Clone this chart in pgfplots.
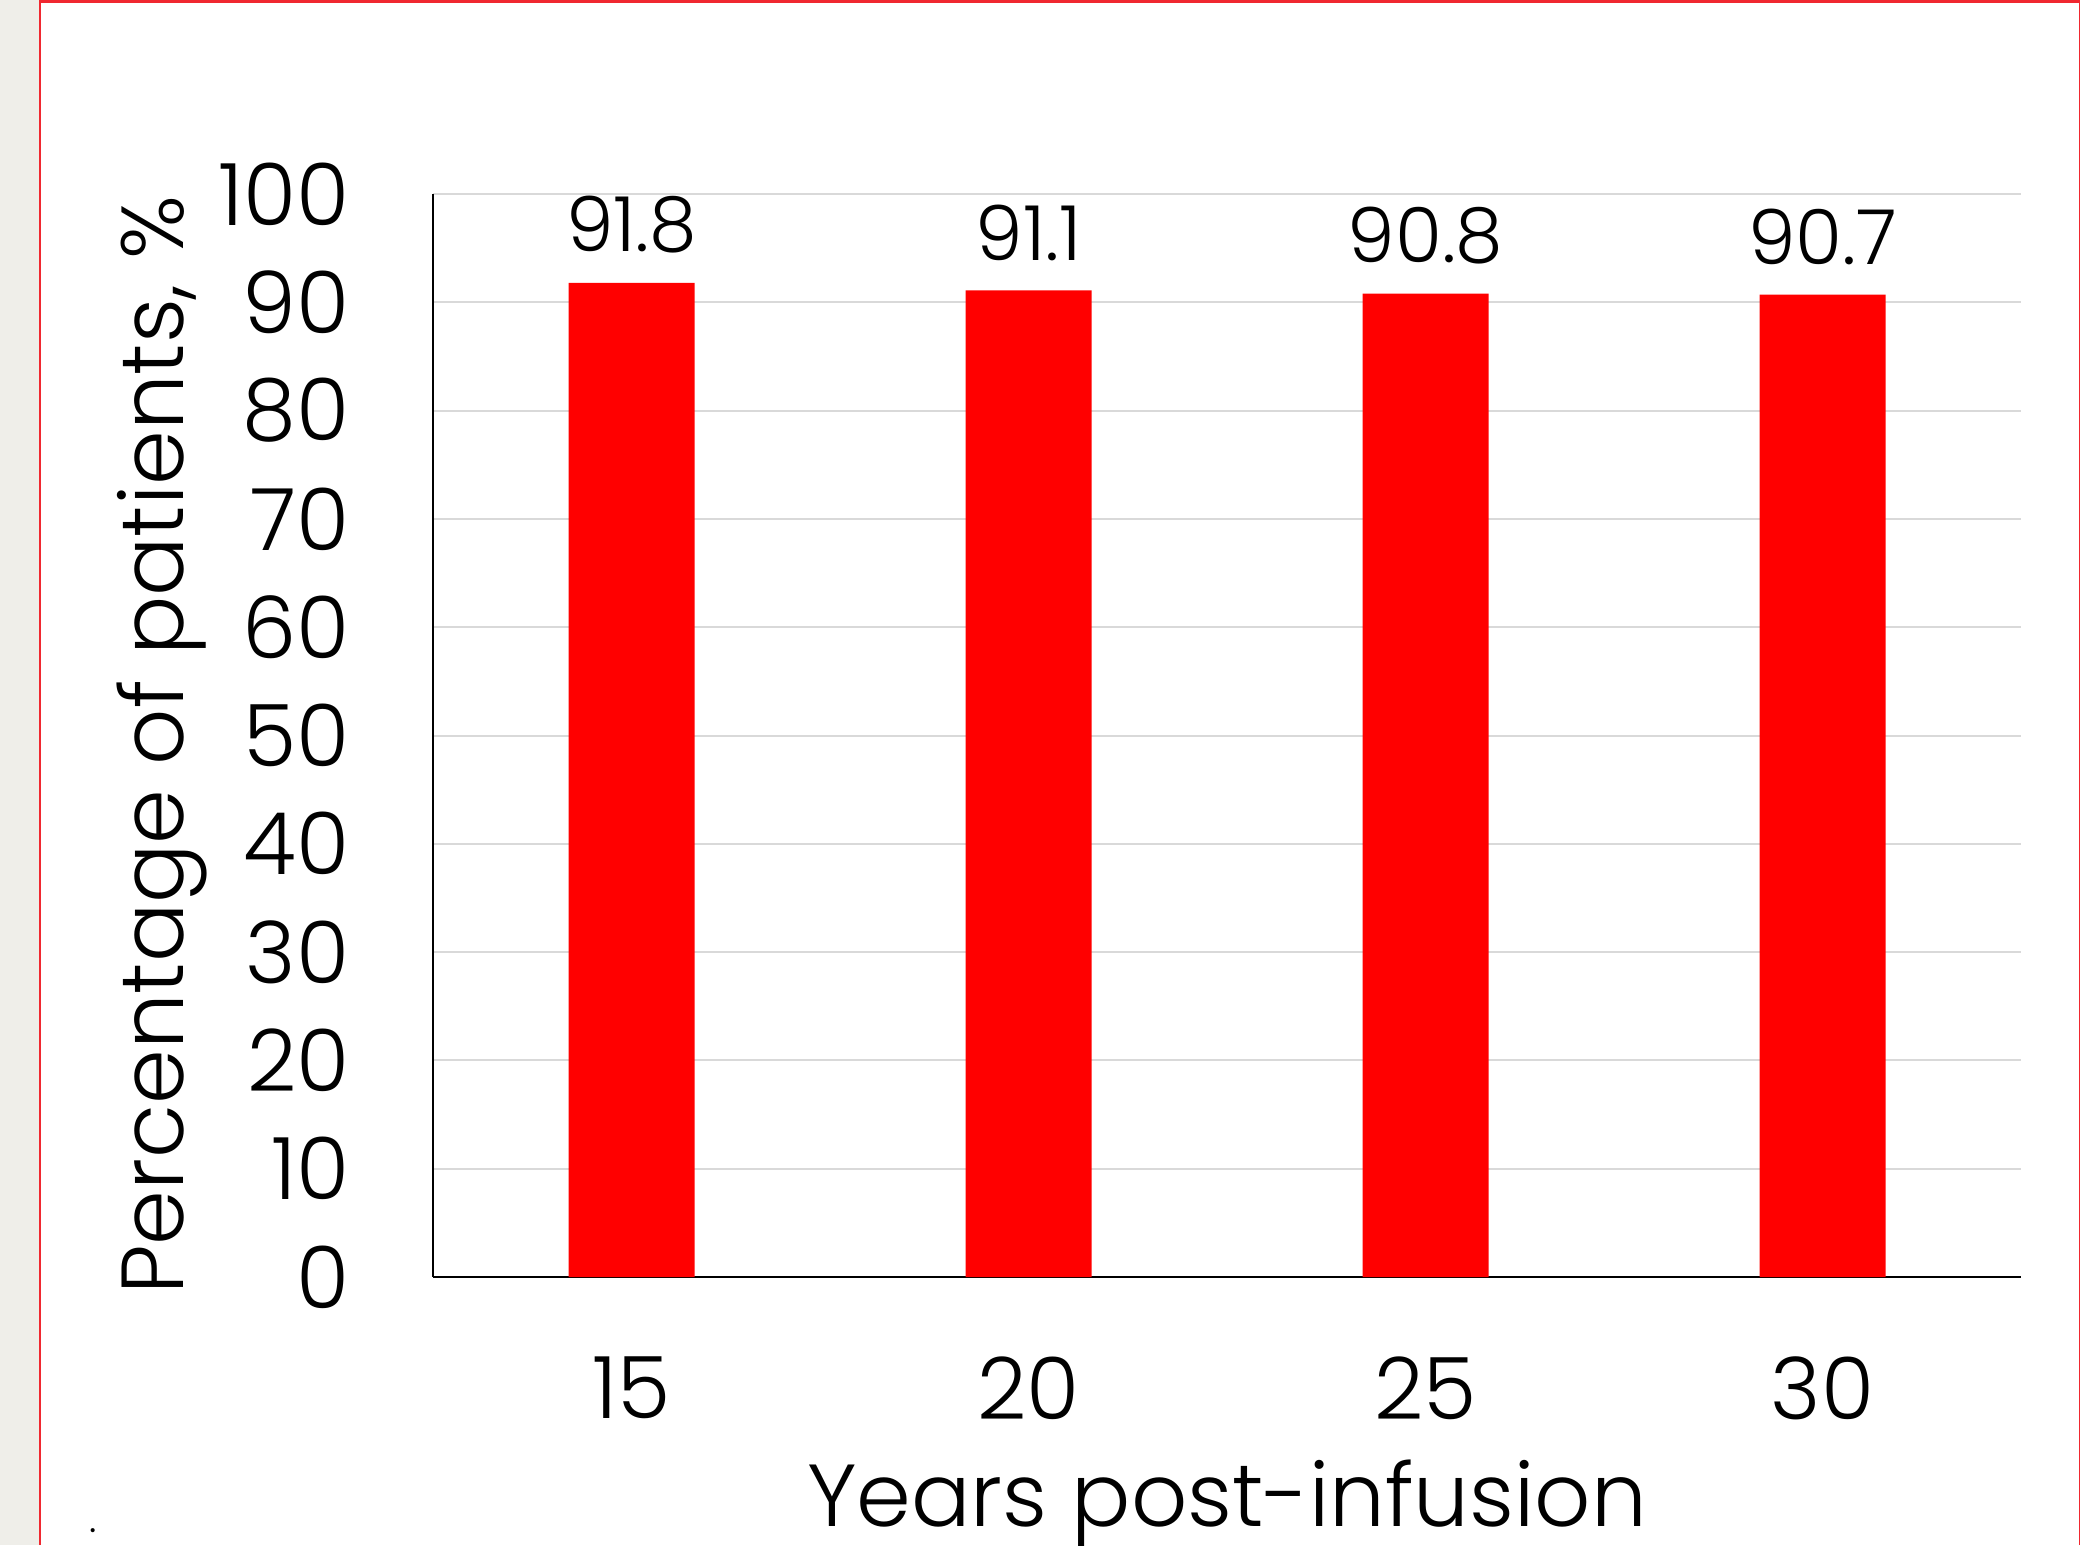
\documentclass[border=0pt]{standalone}
\usepackage{pgfplots}
\pgfplotsset{compat=1.18}
\usepackage{fontspec}
\setmainfont{Poppins Light}
\definecolor{barred}{RGB}{255,0,0}
\definecolor{framered}{RGB}{240,40,48}
\definecolor{strip}{RGB}{239,238,233}
\definecolor{gridgrey}{RGB}{217,217,217}
\begin{document}
\begin{tikzpicture}
\fill[white] (-108.25pt,-67pt) rectangle (412.75pt,319.25pt);
\fill[strip] (-108.25pt,-67pt) rectangle (-98.5pt,319.25pt);
\draw[framered, line width=0.35pt] (-98.2pt,-67pt) -- (-98.2pt,319.25pt);
\draw[framered, line width=0.35pt] (411.6pt,-67pt) -- (411.6pt,319.25pt);
\fill[framered] (-98.2pt,318.5pt) rectangle (411.8pt,319.25pt);
\begin{axis}[
  at={(0,0)}, anchor=south west,
  scale only axis,
  width=397pt, height=270.75pt,
  xmin=-0.5, xmax=3.5, ymin=0, ymax=100,
  xtick={0,1,2,3}, xticklabels={15,20,25,30},
  ytick={0,10,...,100},
  major tick length=0pt,
  axis x line*=bottom, axis y line*=left,
  axis line style={black, line width=0.4pt},
  ymajorgrids, grid style={gridgrey, line width=0.5pt},
  /pgf/number format/assume math mode=true,
  ticklabel style={font=\fontsize{21.5}{26}\selectfont, inner sep=0pt},
  yticklabel style={anchor=east, xshift=-20.75pt},
  xticklabel style={anchor=north, yshift=-19.75pt},
  xlabel={Years post-infusion},
  ylabel={Percentage of patients, \%},
  label style={font=\fontsize{22}{27}\selectfont},
  xlabel style={at={(axis description cs:0.5,-0.2299)}, anchor=base, inner sep=0pt},
  ylabel style={at={(axis description cs:-0.1574,0.491)}, anchor=base, inner sep=0pt},
  ybar, bar width=31.5pt,
  nodes near coords,
  nodes near coords style={font=\fontsize{19}{23}\selectfont, anchor=south, inner sep=0pt, yshift=7.25pt, text=black},
  point meta=explicit symbolic,
  clip=false,
]
\addplot[fill=barred, draw=none] coordinates {(0,91.8) [91.8] (1,91.1) [91.1] (2,90.8) [90.8] (3,90.7) [90.7]};
\end{axis}
\node[font=\fontsize{10}{12}\selectfont, inner sep=0pt, anchor=base] at (-85pt,-63.75pt) {.};
\pgfresetboundingbox
\path[use as bounding box] (-108.25pt,-67pt) rectangle (412.75pt,319.25pt);
\end{tikzpicture}
\end{document}
